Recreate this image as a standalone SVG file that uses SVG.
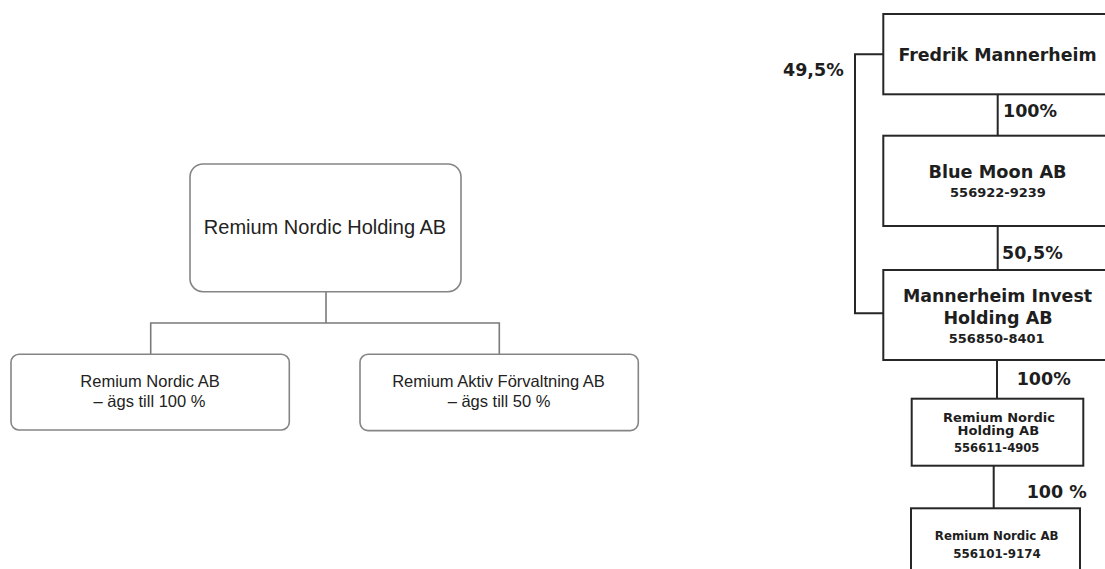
<svg xmlns="http://www.w3.org/2000/svg" width="1105" height="569" viewBox="0 0 1105 569">
<style>
.lbox{fill:#fff;stroke:#858585;stroke-width:1.6}
.lline{fill:none;stroke:#7a7a7a;stroke-width:1.6}
.rbox{fill:#fff;stroke:#262626;stroke-width:2}
.rline{fill:none;stroke:#262626;stroke-width:2}
.lt{font-family:"Liberation Sans",Arial,sans-serif;fill:#222;text-anchor:middle}
.rt{font-family:"DejaVu Sans",Verdana,sans-serif;font-weight:bold;fill:#1e1e1e;text-anchor:middle}
.pl{font-family:"DejaVu Sans",Verdana,sans-serif;font-weight:bold;fill:#1e1e1e;font-size:17.5px}
</style>
<rect width="1105" height="569" fill="#fff"/>
<g id="connectors">
<path class="lline" d="M326 292V323M150.7 354V323H499.3V354"/>
<path class="rline" d="M883.3 54.3H855V313.3H883.3"/>
<path class="rline" d="M997.7 94.3V135.7M997.7 226V270M997 360V398.7M993.7 465.7V508.3"/>
</g>
<g id="n-rnh-left">
<rect class="lbox" x="190" y="164" width="271" height="127.7" rx="13"/>
<text class="lt" x="325" y="234" font-size="20">Remium Nordic Holding AB</text>
</g>
<g id="n-rn-left">
<rect class="lbox" x="11" y="354.3" width="278.3" height="75.7" rx="8"/>
<text class="lt" x="150" y="387.3" font-size="16.5">Remium Nordic AB</text>
<text class="lt" x="149.5" y="407.3" font-size="16.5">– ägs till 100 %</text>
</g>
<g id="n-raf-left">
<rect class="lbox" x="360" y="354.3" width="278.3" height="76.3" rx="8"/>
<text class="lt" x="498.5" y="387.3" font-size="16.5">Remium Aktiv Förvaltning AB</text>
<text class="lt" x="499" y="407.3" font-size="16.5">– ägs till 50 %</text>
</g>
<g id="n-fm">
<rect class="rbox" x="883.3" y="14" width="240" height="80.3"/>
<text class="rt" x="997.5" y="61" font-size="17.4">Fredrik Mannerheim</text>
</g>
<g id="n-bm">
<rect class="rbox" x="883.3" y="135.7" width="240" height="90.3"/>
<text class="rt" x="997.5" y="178.3" font-size="17.7">Blue Moon AB</text>
<text class="rt" x="998" y="196.7" font-size="13">556922-9239</text>
</g>
<g id="n-mih">
<rect class="rbox" x="883.3" y="270" width="240" height="90"/>
<text class="rt" x="997.5" y="301.7" font-size="17.4">Mannerheim Invest</text>
<text class="rt" x="998" y="324" font-size="17.5">Holding AB</text>
<text class="rt" x="996.7" y="343.3" font-size="13">556850-8401</text>
</g>
<g id="n-rnh">
<rect class="rbox" x="911.7" y="398.7" width="171.6" height="67"/>
<text class="rt" x="999" y="421.7" font-size="13">Remium Nordic</text>
<text class="rt" x="998.3" y="435" font-size="13.1">Holding AB</text>
<text class="rt" x="996.7" y="452.3" font-size="11.6">556611-4905</text>
</g>
<g id="n-rn">
<rect class="rbox" x="911" y="508.3" width="169" height="80"/>
<text class="rt" x="996.7" y="540" font-size="11.8">Remium Nordic AB</text>
<text class="rt" x="997" y="557.7" font-size="11.9">556101-9174</text>
</g>
<g id="labels">
<text class="pl" x="1003" y="116.7">100%</text>
<text class="pl" x="1002" y="259.3">50,5%</text>
<text class="pl" x="783" y="76">49,5%</text>
<text class="pl" x="1016.7" y="385" font-size="17.3">100%</text>
<text class="pl" x="1026.7" y="498.3" font-size="16.4">100 %</text>
</g>
</svg>
